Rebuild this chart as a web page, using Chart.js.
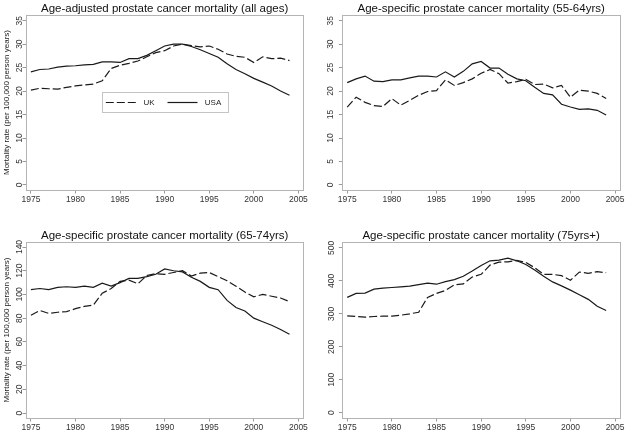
<!DOCTYPE html>
<html><head><meta charset="utf-8">
<script src="https://cdn.jsdelivr.net/npm/chart.js@4.4.1/dist/chart.umd.min.js"></script>
<style>
html,body{margin:0;padding:0;background:#fff;}
#wrap{position:relative;width:627px;height:433px;overflow:hidden;background:#fff;}
canvas{position:absolute;}
</style></head><body>
<div id="wrap">
<canvas id="c1" width="313" height="216" style="left:0px;top:0px"></canvas>
<canvas id="c2" width="314" height="216" style="left:313px;top:0px"></canvas>
<canvas id="c3" width="313" height="217" style="left:0px;top:216px"></canvas>
<canvas id="c4" width="314" height="217" style="left:313px;top:216px"></canvas>
</div>
<script>
// ---- data ----
const years = [1975,1976,1977,1978,1979,1980,1981,1982,1983,1984,1985,1986,1987,1988,1989,1990,1991,1992,1993,1994,1995,1996,1997,1998,1999,2000,2001,2002,2003,2004];
const seriesNames = ['UK', 'USA'];
const titles = [
  'Age-adjusted prostate cancer mortality (all ages)',
  'Age-specific prostate cancer mortality (55-64yrs)',
  'Age-specific prostate cancer mortality (65-74yrs)',
  'Age-specific prostate cancer mortality (75yrs+)'
];
const yAxisTitle = 'Mortality rate (per 100,000 person years)';

const ukAll  = [20.2,20.6,20.5,20.4,20.8,21.1,21.3,21.5,22.2,24.8,25.5,25.9,26.4,27.3,28.2,28.6,29.6,30.0,29.7,29.4,29.6,28.9,27.9,27.4,27.2,26.1,27.3,26.9,27.0,26.5];
const usaAll = [24.1,24.6,24.7,25.1,25.3,25.4,25.6,25.7,26.2,26.2,26.1,26.9,26.9,27.6,28.6,29.6,30.0,30.0,29.5,28.8,28.0,27.2,25.8,24.6,23.7,22.7,21.9,21.1,20.0,19.1];

const uk5564  = [16.6,18.7,17.6,16.9,16.7,18.4,17.0,18.0,19.1,19.9,20.1,22.4,21.2,21.8,22.6,23.8,24.6,23.7,21.7,22.0,22.5,21.4,21.5,20.7,21.2,18.7,20.2,20.0,19.5,18.4];
const usa5564 = [21.8,22.6,23.2,22.1,22.0,22.4,22.4,22.8,23.2,23.2,23.0,24.1,23.0,24.2,25.8,26.3,24.9,24.9,23.6,22.6,22.2,20.8,19.5,19.2,17.2,16.6,16.1,16.2,15.9,14.9];

const uk6574  = [82.5,86.5,84,85,85.5,88,90,91,101,105,111,112,109,116,117.5,117,118.5,120,115.5,118,118.5,115,111.5,107,102,98,100,98.5,97,94];
const usa6574 = [104,105,104,106,106.5,106,107,106,109.5,107,110,113.5,113.5,115,117,121.5,120,119,114.5,111,106,104,95,89,86,80,77,74,70.5,66.5];

const uk75  = [294,292,290,292,293,293,296,300,305,350,362,371,388,391,412,420,448,457,458,462,456,440,420,420,416,402,427,423,428,425];
const usa75 = [350,362,363,375,378,380,382,384,389,393,390,398,404,414,430,447,461,463,469,461,450,433,414,397,385,372,358,344,323,310];

const xTicks = [1975,1980,1985,1990,1995,2000,2005];
const yTicksA = [0,5,10,15,20,25,30,35];
const yTicksB = [0,20,40,60,80,100,120,140];
const yTicksC = [0,100,200,300,400,500];

// ---- styling / layout ----
const FONT = "'Liberation Sans', Arial, Helvetica, sans-serif";
const LINE = '#1a1a1a';
const FRAME = '#b4b4b4';
const UK_DASH = [8, 3];

const framePlugin = {
  id: 'frame',
  beforeDatasetsDraw(chart) {
    const a = chart.chartArea, ctx = chart.ctx;
    ctx.save();
    ctx.strokeStyle = FRAME; ctx.lineWidth = 1;
    const l = Math.round(a.left) + 0.5, t = Math.round(a.top) + 0.5;
    const r = Math.round(a.right) + 0.5, b = Math.round(a.bottom) + 0.5;
    ctx.strokeRect(l, t, r - l, b - t);
    ctx.restore();
  }
};

// legend box drawn inside the first panel's plot area
const boxLegend = {
  id: 'boxLegend',
  afterDraw(chart, args, opts) {
    if (!opts || !opts.show) return;
    const a = chart.chartArea, ctx = chart.ctx;
    const x = Math.round(a.left + 76) + 0.5, y = Math.round(a.top + 77) + 0.5;
    const w = 126, h = 20, cy = y + 10;
    ctx.save();
    ctx.fillStyle = '#fff'; ctx.fillRect(x, y, w, h);
    ctx.strokeStyle = '#c4c4c4'; ctx.lineWidth = 1; ctx.strokeRect(x, y, w, h);
    ctx.strokeStyle = LINE; ctx.lineWidth = 1.2;
    ctx.setLineDash(UK_DASH);
    ctx.beginPath(); ctx.moveTo(x + 3.3, cy); ctx.lineTo(x + 33.3, cy); ctx.stroke();
    ctx.setLineDash([]);
    ctx.beginPath(); ctx.moveTo(x + 65, cy); ctx.lineTo(x + 95, cy); ctx.stroke();
    ctx.fillStyle = '#222'; ctx.font = '8px ' + FONT; ctx.textBaseline = 'middle'; ctx.textAlign = 'left';
    ctx.fillText(seriesNames[0], x + 41, cy + 0.5);
    ctx.fillText(seriesNames[1], x + 102.3, cy + 0.5);
    ctx.restore();
  }
};

function makeChart(id, cfg) {
  const pts = v => years.map((yr, i) => ({x: yr, y: v[i]}));
  return new Chart(document.getElementById(id), {
    type: 'line',
    data: {
      datasets: [
        {label: seriesNames[0], data: pts(cfg.uk), borderColor: LINE, borderWidth: 1.2, borderDash: UK_DASH, pointRadius: 0, fill: false, tension: 0},
        {label: seriesNames[1], data: pts(cfg.usa), borderColor: LINE, borderWidth: 1.2, pointRadius: 0, fill: false, tension: 0}
      ]
    },
    options: {
      responsive: false, animation: false, devicePixelRatio: 1,
      layout: {padding: {left: 0, right: cfg.padRight, top: cfg.padTop, bottom: 0}},
      plugins: {
        legend: {display: false}, tooltip: {enabled: false},
        boxLegend: {show: !!cfg.legend},
        title: {display: true, text: cfg.title, color: '#111', fullSize: false, align: 'center',
          font: {family: FONT, size: 11.5, weight: 'normal', lineHeight: 1.15},
          padding: {top: 1.8, bottom: 0}}
      },
      scales: {
        x: {
          type: 'linear', min: 1974.45, max: 2005.55,
          afterBuildTicks: s => { s.ticks = xTicks.map(v => ({value: v})); },
          afterFit: s => { s.height = cfg.xH; },
          grid: {drawOnChartArea: false, drawTicks: true, tickLength: 3.5, color: '#9a9a9a'},
          border: {display: true, color: FRAME},
          ticks: {autoSkip: false, maxRotation: 0, minRotation: 0, padding: 1, color: '#333',
            font: {family: FONT, size: 8.5}, callback: v => String(v)}
        },
        y: {
          type: 'linear', min: cfg.yMin, max: cfg.yMax,
          afterBuildTicks: s => { s.ticks = cfg.yTicks.map(v => ({value: v})); },
          afterFit: s => { s.width = cfg.yW; },
          grid: {drawOnChartArea: false, drawTicks: true, tickLength: 3.5, color: '#9a9a9a'},
          border: {display: true, color: FRAME},
          title: {display: cfg.yTitle, text: yAxisTitle, color: '#222',
            font: {family: FONT, size: 8, lineHeight: 1.2}, padding: {top: 2, bottom: 0}},
          ticks: {autoSkip: false, minRotation: 90, maxRotation: 90, crossAlign: 'center',
            padding: cfg.yPad, color: '#333', font: {family: FONT, size: 8.5}, callback: v => String(v)}
        }
      }
    },
    plugins: [framePlugin, boxLegend]
  });
}

makeChart('c1', {uk: ukAll, usa: usaAll, title: titles[0], yTicks: yTicksA, yMin: -1.07, yMax: 36.2,
  yW: 26, padRight: 9.7, padTop: 0, xH: 26, yTitle: true, yPad: -1.5, legend: true});
makeChart('c2', {uk: uk5564, usa: usa5564, title: titles[1], yTicks: yTicksA, yMin: -1.07, yMax: 36.2,
  yW: 29.3, padRight: 7, padTop: 0, xH: 26, yTitle: false, yPad: 3});
makeChart('c3', {uk: uk6574, usa: usa6574, title: titles[2], yTicks: yTicksB, yMin: -4.2, yMax: 144.2,
  yW: 26, padRight: 9.7, padTop: 11, xH: 15, yTitle: true, yPad: -4});
makeChart('c4', {uk: uk75, usa: usa75, title: titles[3], yTicks: yTicksC, yMin: -16, yMax: 518,
  yW: 29.3, padRight: 7, padTop: 11, xH: 15, yTitle: false, yPad: 0.5});
</script>
</body></html>
